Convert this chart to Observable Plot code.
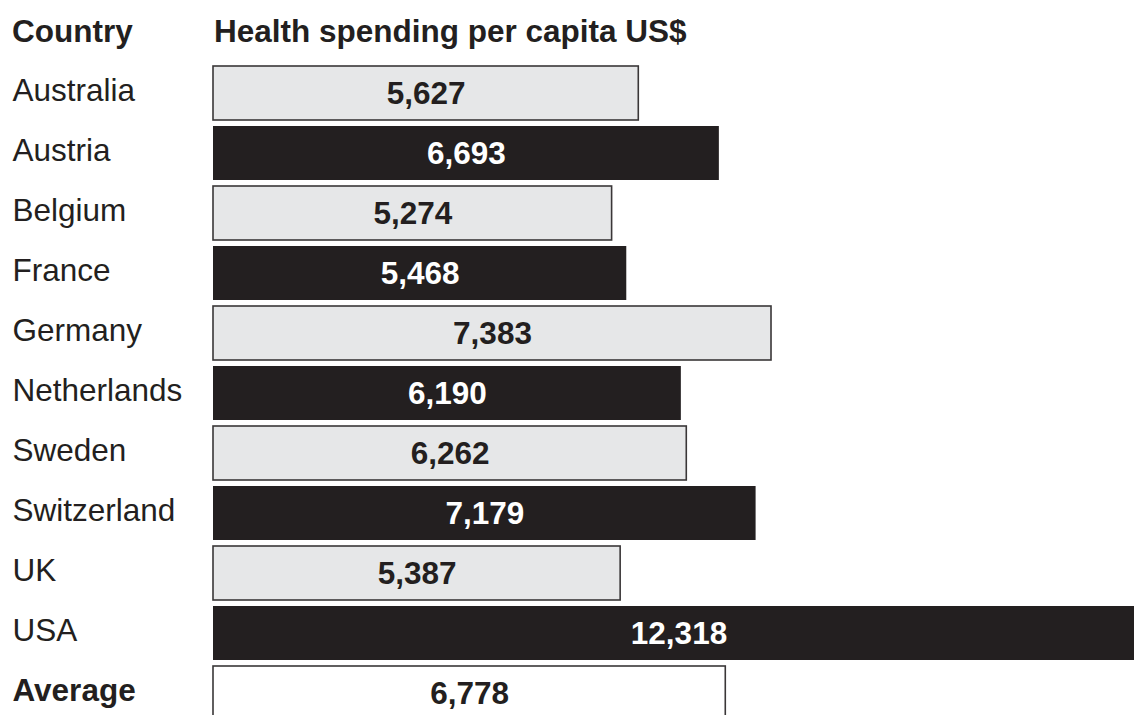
<!DOCTYPE html>
<html>
<head>
<meta charset="utf-8">
<script src="https://cdn.jsdelivr.net/npm/d3@7"></script>
<script src="https://cdn.jsdelivr.net/npm/@observablehq/plot@0.6"></script>
<style>
  html, body { margin: 0; padding: 0; background: #fff; }
  body { width: 1134px; height: 715px; overflow: hidden; font-family: "Liberation Sans", Arial, sans-serif; color: #231f20; }
  #header { position: relative; height: 62px; }
  #header span { position: absolute; top: 13px; font-weight: bold; font-size: 31.5px; line-height: 36px; }
  #chart svg { display: block; overflow: hidden; }
</style>
</head>
<body>
<div id="header"><span style="left:12px">Country</span><span style="left:214px">Health spending per capita US$</span></div>
<div id="chart"></div>
<script>
const countries = ["Australia", "Austria", "Belgium", "France", "Germany", "Netherlands", "Sweden", "Switzerland", "UK", "USA", "Average"];
const spending = [5627, 6693, 5274, 5468, 7383, 6190, 6262, 7179, 5387, 12318, 6778];
const kinds = ["light", "dark", "light", "dark", "light", "dark", "light", "dark", "light", "dark", "average"];

const data = countries.map((c, i) => ({country: c, value: spending[i], kind: kinds[i]}));
const fillOf = {light: "#e6e7e8", dark: "#231f20", average: "#ffffff"};
const textOf = {light: "#231f20", dark: "#ffffff", average: "#231f20"};
const fmt = d3.format(",");
const font = "Liberation Sans, Arial, sans-serif";

const chart = Plot.plot({
  width: 1134,
  height: 653,
  marginLeft: 0, marginRight: 0, marginTop: 0, marginBottom: 0,
  style: {fontFamily: font, background: "#fff"},
  x: {domain: [0, 12318], range: [213, 1144], axis: null},
  y: {domain: countries, range: [0, 662.2], paddingInner: 0.1, paddingOuter: 0.05, axis: null},
  marks: [
    Plot.barX(data, {
      x: "value", y: "country",
      fill: d => fillOf[d.kind],
      stroke: d => d.kind === "dark" ? "none" : "#3a3738",
      strokeWidth: 1.6
    }),
    Plot.text(data, {
      x: d => d.value / 2, y: "country",
      text: d => fmt(d.value),
      fill: d => textOf[d.kind],
      fontSize: 31.5, fontWeight: "bold", textAnchor: "middle"
    }),
    Plot.text(data.filter(d => d.kind !== "average"), {
      y: "country", frameAnchor: "left", dx: 12, dy: -3,
      text: "country", textAnchor: "start",
      fill: "#231f20",
      fontSize: 31.5, fontWeight: "normal"
    }),
    Plot.text(data.filter(d => d.kind === "average"), {
      y: "country", frameAnchor: "left", dx: 12, dy: -3,
      text: "country", textAnchor: "start",
      fill: "#231f20",
      fontSize: 31.5, fontWeight: "bold"
    })
  ]
});
document.getElementById("chart").appendChild(chart);
</script>
</body>
</html>
